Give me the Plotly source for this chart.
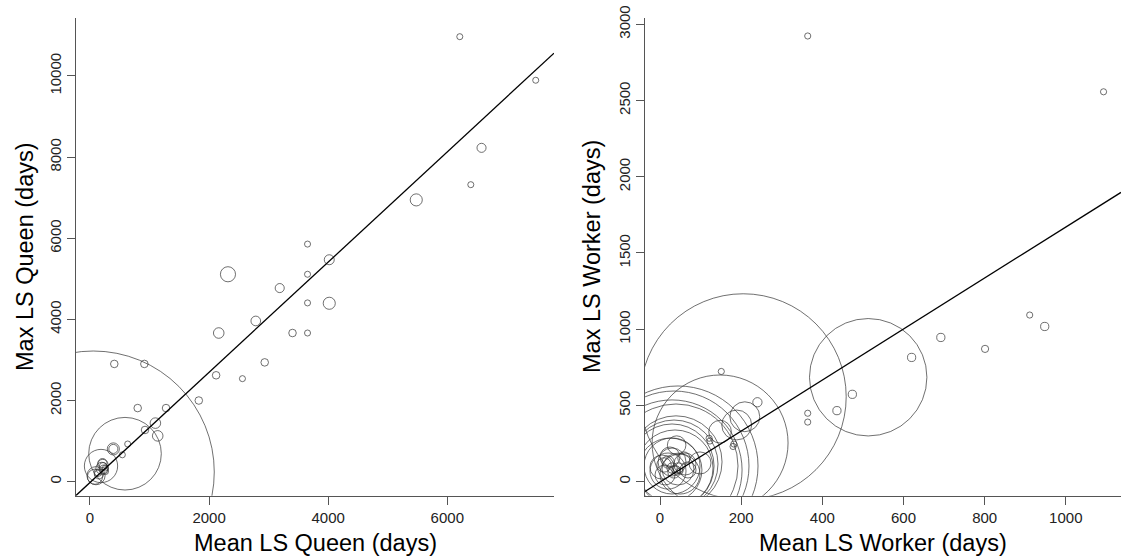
import plotly.graph_objects as go

# ---------------- Data: Queen (left panel) ----------------
queen_mean = [6210, 7485, 6575, 6395, 5479, 3653, 4018, 2317, 3653, 3186,
              3653, 4018, 2784, 2162, 3401, 3653, 408, 913, 2934, 2118,
              2560, 1827, 801, 1277, 1098, 924, 1137, 633, 392, 392,
              543, 588, 185, 84, 55, 210, 215, 220, 200, 230,
              260, 150, 130, 260, 101]
queen_max = [10969, 9895, 8229, 7321, 6946, 5857, 5471, 5113, 5113, 4773,
             4407, 4398, 3962, 3665, 3665, 3665, 2903, 2903, 2941, 2623,
             2540, 2001, 1815, 1815, 1444, 1275, 1130, 929, 808, 808,
             663, 690, 387, 123, 239, 460, 420, 380, 330, 300,
             250, 180, 220, 340, 148]
queen_weight = [2, 2, 3, 2, 4, 2, 3.3, 5, 2, 3,
                2, 4, 3.2, 3.5, 2.5, 2, 2.5, 2.5, 2.5, 2.5,
                2, 2.5, 2.5, 2.5, 3.5, 2.5, 3.5, 2, 4, 3,
                2, 24, 11, 5, 80, 3, 3.5, 2.5, 4, 3,
                2, 3, 2.5, 2, 6]
queen_intercept, queen_slope = -19, 1.358
queen_xticks = [0, 2000, 4000, 6000]
queen_yticks = [0, 2000, 4000, 6000, 8000, 10000]

# ---------------- Data: Worker (right panel) ----------------
worker_mean = [364, 1093, 911, 948, 692, 801, 620, 474, 436, 364,
               364, 151, 240,
               205, 513, 148,
               189, 209, 148, 182, 121, 180, 123,
               44.3, 34.5, 29.6, 39.4, 39.4, 34.5, 29.6, 36.9, 24.6, 29.6,
               24.6, 61.6, 19.7, 44.3, 4.9, 98.5, 49.3, 29.6, 12.3, 69,
               39.4, 44.3, 34.5, 49.3, 29.6, 19.7, 9.9, 59, 41]
worker_max = [2923, 2557, 1093, 1018, 946, 871, 815, 573, 466, 449,
              391, 723, 521,
              557, 685, 254,
              372, 426, 328, 247, 285, 231, 267,
              103, 103, 77, 103, 130, 116, 103, 90, 77, 103,
              162, 116, 70, 83, 96, 123, 50, 129, 44, 77,
              77, 90, 64, 70, 90, 129, 110, 155, 240]
worker_weight = [3, 3, 3, 4, 4, 3.5, 4, 4, 4, 3,
                 3, 3, 4.5,
                 100, 57, 66,
                 14.5, 14.5, 11, 3, 3, 3, 3,
                 77.7, 72.8, 68, 60.2, 44.7, 42.7, 40.8, 36.9, 31, 27.2,
                 9.7, 10.7, 17.5, 15.5, 11.7, 10.7, 19.4, 13.6, 9.7, 7.8,
                 4, 5, 6, 3, 5, 6, 7, 6, 9]
worker_intercept, worker_slope = -2, 1.672
worker_xticks = [0, 200, 400, 600, 800, 1000]
worker_yticks = [0, 500, 1000, 1500, 2000, 2500, 3000]

# ---------------- Style / layout constants ----------------
W, H = 1121, 557
FONT = "Liberation Sans, Arial, sans-serif"
CIRCLE_COLOR = "#333333"
AXIS_COLOR = "#555555"
Q_MAX_R = 121   # px radius of the largest circle (left)
W_MAX_R = 103   # px radius of the largest circle (right)

q_xr = [-235, 7792]
q_yr = [-345, 11422]
w_xr = [-37, 1136]
w_yr = [-91.8, 3039]

fig = go.Figure()

qmax = max(queen_weight)
fig.add_trace(go.Scatter(
    x=queen_mean, y=queen_max, mode="markers",
    marker=dict(symbol="circle-open", size=[2 * Q_MAX_R * w / qmax for w in queen_weight],
                color=CIRCLE_COLOR, line=dict(width=1, color=CIRCLE_COLOR)),
    xaxis="x", yaxis="y", showlegend=False, hoverinfo="skip"))
fig.add_trace(go.Scatter(
    x=q_xr, y=[queen_intercept + queen_slope * v for v in q_xr], mode="lines",
    line=dict(color="black", width=1.3), xaxis="x", yaxis="y", showlegend=False))

wmax = max(worker_weight)
fig.add_trace(go.Scatter(
    x=worker_mean, y=worker_max, mode="markers",
    marker=dict(symbol="circle-open", size=[2 * W_MAX_R * w / wmax for w in worker_weight],
                color=CIRCLE_COLOR, line=dict(width=1, color=CIRCLE_COLOR)),
    xaxis="x2", yaxis="y2", showlegend=False, hoverinfo="skip"))
fig.add_trace(go.Scatter(
    x=w_xr, y=[worker_intercept + worker_slope * v for v in w_xr], mode="lines",
    line=dict(color="black", width=1.3), xaxis="x2", yaxis="y2", showlegend=False))

ydom = [(H - 495.7) / H, (H - 18.3) / H]
axis_common = dict(showline=True, linecolor=AXIS_COLOR, linewidth=1, ticks="outside",
                   ticklen=8, tickcolor=AXIS_COLOR, tickwidth=1, showgrid=False,
                   zeroline=False, automargin=False,
                   tickfont=dict(family=FONT, size=15, color="#222222"))

def tick_axis(vals):
    return dict(tickmode="array", tickvals=vals, ticktext=[str(v) for v in vals])

fig.update_layout(
    width=W, height=H, margin=dict(l=0, r=0, t=0, b=0, autoexpand=False),
    paper_bgcolor="white", plot_bgcolor="white",
    xaxis=dict(domain=[76 / W, 554 / W], range=q_xr, anchor="y",
               **tick_axis(queen_xticks), **axis_common),
    yaxis=dict(domain=ydom, range=q_yr, tickangle=-90, anchor="x",
               **tick_axis(queen_yticks), **axis_common),
    xaxis2=dict(domain=[645 / W, 1.0], range=w_xr, anchor="y2",
                **tick_axis(worker_xticks), **axis_common),
    yaxis2=dict(domain=ydom, range=w_yr, tickangle=-90, anchor="x2",
                **tick_axis(worker_yticks), **axis_common),
)

title_font = dict(family=FONT, size=23.5, color="black")
annots = [
    dict(text="Mean LS Queen (days)", x=315 / W, y=(H - 543) / H),
    dict(text="Mean LS Worker (days)", x=883 / W, y=(H - 543) / H),
    dict(text="Max LS Queen (days)", x=25 / W, y=(H - 257) / H, textangle=-90),
    dict(text="Max LS Worker (days)", x=592 / W, y=(H - 257) / H, textangle=-90),
]
for a in annots:
    fig.add_annotation(xref="paper", yref="paper", showarrow=False,
                       xanchor="center", yanchor="middle", font=title_font, **a)

fig.write_html("out.html",
               config={"displayModeBar": False, "staticPlot": True},
               post_script="document.body.style.margin='0px';"
                           "document.body.style.overflow='hidden';")
